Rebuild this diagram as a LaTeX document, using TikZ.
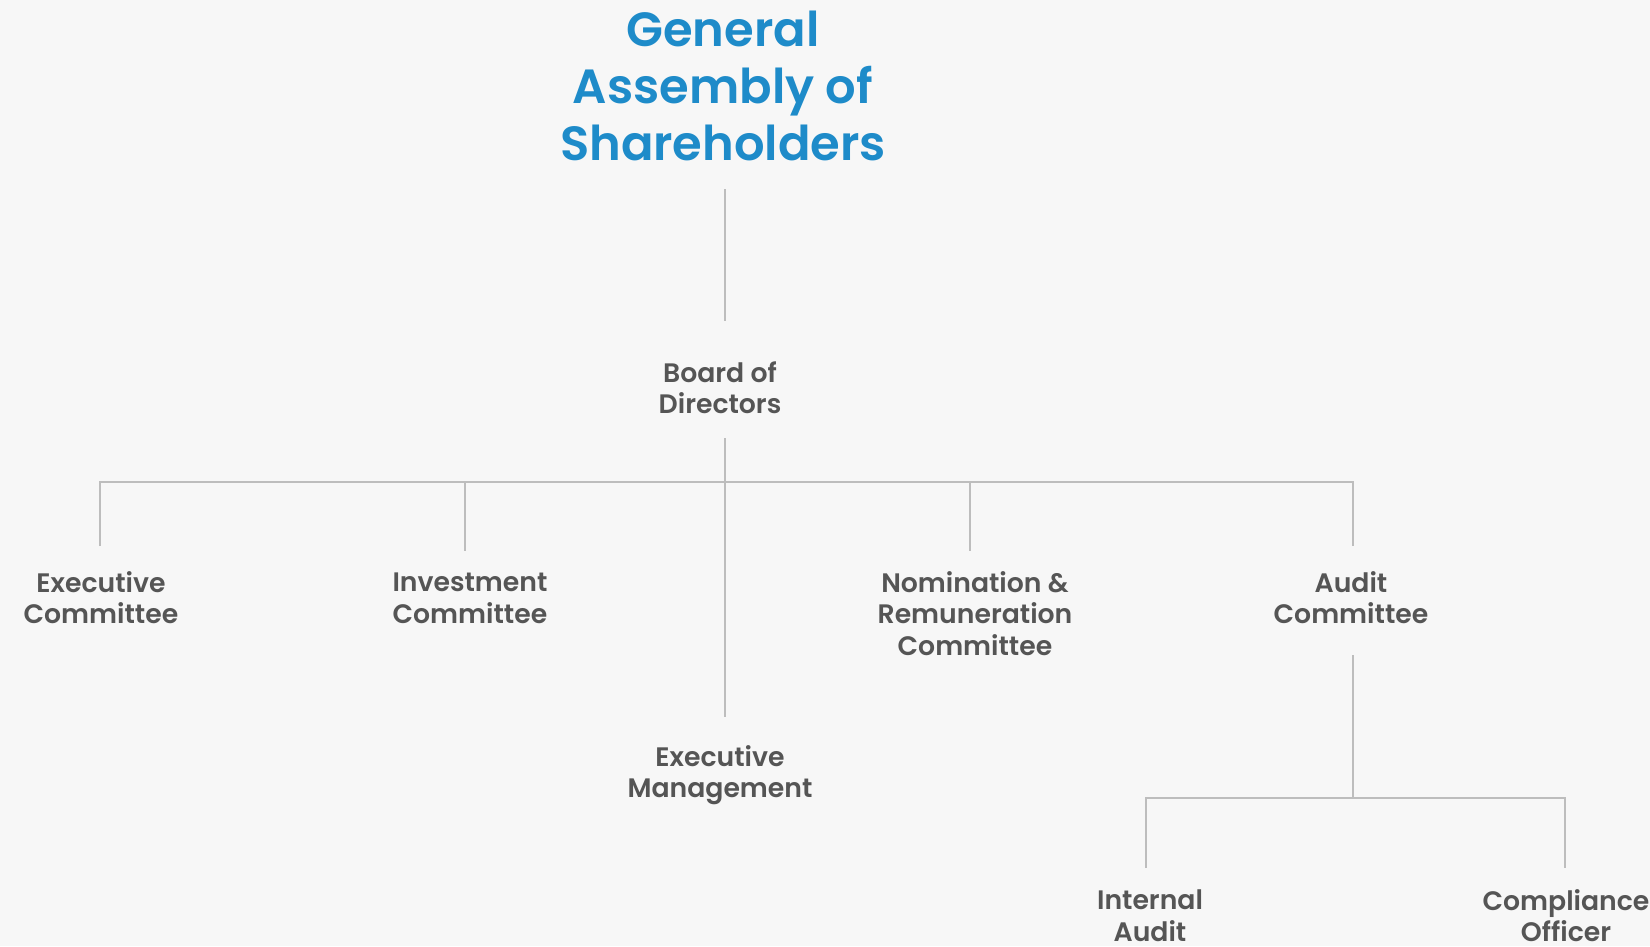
\documentclass[tikz,border=0pt]{standalone}
\usepackage{fontspec}
\setmainfont{Poppins}[BoldFont={Poppins SemiBold}]
\definecolor{titleblue}{HTML}{1E8BC9}
\definecolor{labelgrey}{HTML}{555555}
\definecolor{linegrey}{HTML}{BDBDBD}
\definecolor{paper}{HTML}{F7F7F7}
\begin{document}
\begin{tikzpicture}[x=1pt,y=-1pt,
 every node/.style={anchor=north,align=center,inner sep=0pt,text=labelgrey,font=\bfseries\fontsize{26.7}{31.6}\selectfont},
 title/.style={text=titleblue,font=\bfseries\fontsize{48}{57}\selectfont},
 link/.style={draw=linegrey,line width=2pt}]
 \fill[paper] (0,0) rectangle (1650,946);
 \node [title] (gas) at (723,11) {General\\Assembly of\\Shareholders};
 \node (bd) at (720,361) {Board of\\Directors};
 \node (ec) at (101,571) {Executive\\Committee};
 \node (ic) at (470,573) {Investment\\Committee};
 \node (nrc) at (975,571) {Nomination \&\\Remuneration\\Committee};
 \node (ac) at (1351,571) {Audit\\Committee};
 \node (em) at (720,745) {Executive\\Management};
 \node (ia) at (1150,890) {Internal\\Audit};
 \node (co) at (1566,889) {Compliance\\Officer};
 \coordinate (bus) at (725,482);
 \coordinate (ecd) at (100,482);
 \coordinate (icd) at (465,482);
 \coordinate (nrcd) at (970,482);
 \coordinate (acd) at (1353,482);
 \coordinate (abus) at (1353,798);
 \coordinate (iad) at (1146,798);
 \coordinate (cod) at (1565,798);
 \draw [link] (bus |- 0,189) -- (bus |- 0,321);
 \draw [link] (bus |- 0,438) -- ([yshift=28pt]bus |- em.north);
 \draw [link] (ecd) ++(0,64) -- (ecd) -- (acd) -- ++(0,64);
 \draw [link] (icd) -- ++(0,69);
 \draw [link] (nrcd) -- ++(0,69);
 \draw [link] (abus) ++(0,-143) -- (abus);
 \draw [link] (iad) ++(0,70) -- (iad) -- (cod) -- ++(0,70);
\end{tikzpicture}
\end{document}
